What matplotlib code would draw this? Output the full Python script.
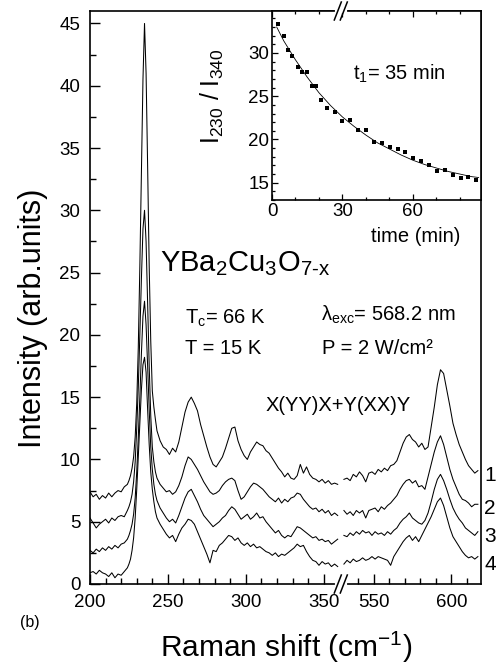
import numpy as np
import matplotlib
matplotlib.use("Agg")
import matplotlib.pyplot as plt
from matplotlib.lines import Line2D
from matplotlib.ticker import FixedLocator, MultipleLocator, FormatStrFormatter

plt.rcParams['font.family'] = ['Liberation Sans', 'DejaVu Sans']
plt.rcParams['mathtext.fontset'] = 'custom'
plt.rcParams['mathtext.rm'] = 'Liberation Sans'
plt.rcParams['mathtext.it'] = 'Liberation Sans'
plt.rcParams['mathtext.default'] = 'regular'

# Raman shift (cm-1): low segment and high segment of the broken axis
shift_lo = np.r_[np.arange(200, 225, 2), np.arange(225, 244, 1), np.arange(245, 360, 2)]
shift_hi = np.arange(531, 618, 2)

# spectra 1..4 (offset)
s1_lo = [7.4, 7.0, 7.2, 6.8, 7.1, 6.9, 7.3, 7.0, 7.3, 7.5, 7.4, 7.8, 8.0,
         8.3, 8.7, 9.3, 10.2, 11.8, 14.5, 19.0, 25.5, 33.0, 40.5, 45.0, 41.0, 33.5, 25.5, 19.5, 15.5, 14.2, 13.2, 12.3,
         11.5, 11.0, 10.8, 10.4, 10.9, 10.6, 11.4, 12.6, 13.8, 14.6,
         15.0, 14.5, 13.9, 12.8, 11.9, 11.0, 10.2, 9.6, 9.4, 9.8,
         10.2, 10.9, 11.7, 12.5, 12.6, 11.5, 10.8, 10.3, 10.0, 10.6,
         11.0, 11.4, 11.2, 11.1, 10.7, 10.5, 10.1, 9.7, 9.3, 9.0,
         8.6, 8.9, 8.5, 8.4, 8.7, 9.6, 8.9, 9.4, 8.8, 8.5,
         8.4, 8.2, 8.4, 8.1, 8.3, 8.0, 8.1, 8.0]
s1_hi = [8.4, 8.5, 8.3, 8.8, 8.6, 9.0, 8.7, 8.2, 8.9, 9.0,
         8.8, 9.2, 9.0, 9.3, 9.1, 9.5, 9.6, 9.9, 10.6, 11.3,
         11.8, 12.0, 11.6, 11.4, 11.0, 11.3, 10.8, 11.0, 12.6, 14.2,
         16.0, 17.2, 16.9, 15.6, 14.3, 12.9, 12.0, 11.2, 10.6, 10.0,
         9.5, 9.2, 8.9, 9.1]

s2_lo = [5.3, 4.9, 4.5, 4.8, 5.0, 5.2, 4.9, 5.3, 5.1, 5.4, 5.5, 5.4, 5.9,
         6.2, 6.6, 7.2, 8.2, 9.8, 12.5, 15.8, 20.0, 24.5, 28.5, 30.0, 27.5, 22.5, 17.5, 13.5, 11.0, 9.8, 9.0, 8.5,
         8.0, 7.7, 7.4, 7.5, 7.2, 7.4, 7.9, 8.6, 9.5, 10.2,
         10.0, 9.6, 9.2, 8.7, 8.2, 7.8, 7.4, 7.2, 7.3, 7.5,
         7.9, 8.2, 8.4, 8.5, 8.3, 7.5, 6.8, 7.0, 7.4, 7.8,
         8.1, 8.0, 7.8, 7.6, 7.3, 7.0, 6.8, 6.6, 6.9, 6.5,
         6.8, 6.6, 6.9, 7.0, 7.3, 7.2, 6.8, 6.5, 6.2, 6.0,
         6.1, 5.8, 6.0, 5.7, 5.9, 5.5, 5.7, 5.5]
s2_hi = [5.9, 5.6, 5.8, 5.5, 5.9, 5.7, 5.9, 5.3, 5.9, 6.0,
         6.1, 5.8, 6.2, 6.0, 6.3, 6.5, 6.8, 7.1, 7.6, 8.0,
         8.3, 8.4, 8.1, 8.3, 7.8, 7.9, 7.6, 8.6, 9.6, 10.6,
         11.4, 11.9, 11.2, 10.2, 9.2, 8.4, 7.8, 7.2, 6.8, 6.7,
         6.5, 6.2, 6.4, 6.4]

s3_lo = [2.7, 2.5, 2.8, 2.6, 2.9, 2.7, 3.0, 2.8, 3.1, 2.9, 3.2, 3.3, 3.6,
         3.9, 4.3, 4.8, 5.6, 6.9, 9.0, 11.8, 15.0, 18.5, 21.5, 22.7, 20.8, 17.5, 14.0, 11.0, 9.2, 8.0, 7.2, 6.7,
         6.1, 5.7, 5.3, 5.0, 5.2, 4.9, 5.5, 6.2, 6.9, 7.4,
         7.6, 7.1, 6.6, 6.0, 5.5, 5.2, 4.9, 4.6, 4.8, 5.0,
         5.3, 5.5, 5.9, 6.2, 6.0, 5.6, 5.2, 5.4, 5.6, 5.2,
         5.4, 5.7, 5.3, 5.4, 5.0, 4.7, 4.4, 4.1, 4.3, 3.9,
         3.7, 3.9, 3.8, 4.2, 4.6, 4.5, 4.3, 4.1, 3.9, 3.7,
         3.8, 3.5, 3.6, 3.4, 3.5, 3.2, 3.4, 3.6]
s3_hi = [3.9, 3.8, 4.1, 3.9, 4.2, 4.0, 4.3, 4.1, 4.2, 3.9,
         4.2, 4.0, 4.1, 3.9, 4.2, 4.0, 4.3, 4.5, 4.9, 5.2,
         5.4, 5.7, 5.3, 5.1, 4.9, 4.8, 5.1, 5.7, 6.6, 7.6,
         8.4, 8.8, 8.3, 7.6, 6.8, 6.1, 5.6, 5.2, 4.9, 4.5,
         4.3, 4.1, 3.9, 4.2]

s4_lo = [0.9, 1.0, 0.8, 1.1, 0.9, 0.8, 0.6, 0.9, 0.5, 0.8, 0.7, 1.0, 1.3,
         1.6, 2.0, 2.7, 3.7, 5.3, 7.6, 10.2, 12.9, 15.6, 17.6, 18.2, 17.0, 14.0, 11.2, 9.0, 7.6, 6.6, 5.8, 5.3,
         4.8, 4.4, 4.0, 3.7, 3.9, 3.4, 4.0, 4.5, 4.8, 5.2,
         5.1, 4.8, 4.2, 3.6, 3.0, 2.4, 1.7, 2.7, 2.6, 3.1,
         3.3, 3.6, 3.9, 3.8, 3.5, 3.7, 3.3, 3.1, 3.3, 3.0,
         3.2, 2.9, 3.0, 2.8, 2.6, 2.5, 2.3, 2.5, 2.2, 2.4,
         2.3, 2.5, 2.7, 2.9, 3.2, 3.0, 3.1, 2.6, 2.2, 1.9,
         1.8, 1.5, 1.8, 1.6, 1.7, 1.4, 1.6, 1.4]
s4_hi = [1.6, 1.9, 1.7, 2.0, 1.8, 1.9, 2.1, 1.9, 2.0, 2.2,
         2.0, 2.2, 2.1, 2.0, 1.9, 1.5, 2.2, 2.6, 3.0, 3.4,
         3.7, 3.9, 3.5, 3.8, 3.4, 3.9, 4.4, 4.9, 5.4, 6.0,
         6.6, 6.9, 6.3, 5.4, 4.5, 3.8, 3.4, 3.0, 2.6, 2.3,
         2.1, 2.2, 2.0, 2.2]

spectra_lo = [s1_lo, s2_lo, s3_lo, s4_lo]
spectra_hi = [s1_hi, s2_hi, s3_hi, s4_hi]
spectrum_names = ['1', '2', '3', '4']
name_y = [8.7, 6.1, 3.8, 1.6]

# inset: I230/I340 vs time
time_min = [2.6, 4.9, 7.0, 8.7, 10.9, 12.7, 14.9, 16.9, 18.7, 20.7, 23.5, 26.7, 29.9, 33.2, 36.8,
            39.9, 43.3, 46.8, 50.2, 53.5, 56.8, 60.2, 63.6, 67.0, 70.4, 73.5, 77.0, 80.3, 83.6, 87.0]
ratio = [33.4, 32.0, 30.3, 29.65, 28.35, 27.8, 27.8, 26.2, 26.2, 24.6, 23.6, 23.2, 22.1, 22.2, 21.1,
         21.1, 19.7, 19.6, 19.1, 18.9, 18.6, 17.8, 17.5, 17.0, 16.3, 16.5, 15.9, 15.55, 15.65, 15.3]
fit_t = [2, 5, 10, 15, 20, 25, 30, 35, 40, 45, 50, 55, 60, 65, 70, 75, 80, 85, 88]
fit_ratio = [33.0, 31.4, 29.2, 27.2, 25.4, 23.9, 22.6, 21.5, 20.5, 19.6, 18.9, 18.2, 17.6, 17.1,
             16.7, 16.3, 16.0, 15.7, 15.6]


def fwd(x):
    x = np.asarray(x, dtype=float)
    return np.where(x <= 362, x, np.where(x >= 530, x - 168, 362.0))


def inv(x):
    x = np.asarray(x, dtype=float)
    return np.where(x <= 362, x, x + 168)


W, H = 496, 667
fig = plt.figure(figsize=(W / 100, H / 100), dpi=100)
ax = fig.add_axes([90 / W, 1 - 584 / H, (481 - 90) / W, (584 - 11) / H])
ax.set_xscale('function', functions=(fwd, inv))

for ylo, yhi in zip(spectra_lo, spectra_hi):
    ax.plot(shift_lo, ylo, color='black', lw=0.75)
    ax.plot(shift_hi, yhi, color='black', lw=0.75)

ax.set_xlim(200, 619)
ax.set_ylim(0, 46)
ax.xaxis.set_major_locator(FixedLocator([200, 250, 300, 350, 550, 600]))
ax.xaxis.set_minor_locator(FixedLocator([210, 220, 230, 240, 260, 270, 280, 290, 310, 320, 330, 340,
                                         540, 560, 570, 580, 590, 610]))
ax.xaxis.set_major_formatter(FormatStrFormatter('%d'))
ax.yaxis.set_major_locator(MultipleLocator(5))
ax.yaxis.set_minor_locator(MultipleLocator(2.5))
ax.tick_params(which='both', direction='in', top=False, right=False, labelsize=13.5, pad=7, width=1)
ax.tick_params(which='major', length=7)
ax.tick_params(which='minor', length=4)
for sp in ax.spines.values():
    sp.set_linewidth(1.2)

for name, yy in zip(spectrum_names, name_y):
    ax.text(1.008, yy, name, transform=ax.get_yaxis_transform(), fontsize=15,
            ha='left', va='center')

ax.text(245, 25.1, 'YBa$_2$Cu$_3$O$_{7‐x}$', fontsize=21, ha='left', va='baseline')
ax.text(261, 20.9, 'T$_c$= 66 K', fontsize=14.5, ha='left', va='baseline')
ax.text(261, 18.5, 'T = 15 K', fontsize=14.5, ha='left', va='baseline')
ax.text(348, 21.1, 'λ$_{exc}$= 568.2 nm', fontsize=14.5, ha='left', va='baseline')
ax.text(349, 18.5, 'P = 2 W/cm²', fontsize=14.5, ha='left', va='baseline')
ax.text(313, 13.9, 'X(YY)X+Y(XX)Y', fontsize=14.5, ha='left', va='baseline')

fig.text(33 / W, 1 - 318 / H, 'Intensity (arb.units)', rotation=90, fontsize=22,
         ha='center', va='center')
fig.text(286 / W, 1 - 647 / H, 'Raman shift (cm$^{-1}$)', fontsize=21.5, ha='center', va='center')
fig.text(30 / W, 1 - 622 / H, '(b)', fontsize=11.5, ha='center', va='center')

# inset
axin = fig.add_axes([272 / W, 1 - 200 / H, (481 - 272) / W, (200 - 11) / H])
axin.plot(time_min, ratio, 's', color='black', ms=3.2, mew=0)
axin.plot(fit_t, fit_ratio, color='black', lw=0.6)
axin.set_xlim(0, 89)
axin.set_ylim(13, 34.85)
axin.xaxis.set_major_locator(FixedLocator([0, 30, 60]))
axin.xaxis.set_minor_locator(MultipleLocator(10))
axin.yaxis.set_major_locator(MultipleLocator(5))
axin.yaxis.set_minor_locator(MultipleLocator(1))
axin.tick_params(which='both', direction='in', top=True, right=False, labelsize=13.5, pad=2, width=0.9)
axin.tick_params(which='major', length=4)
axin.tick_params(which='minor', length=2.5)
for sp in axin.spines.values():
    sp.set_linewidth(1.2)
axin.text(34.3, 27.6, 't$_1$= 35 min', fontsize=14.5, ha='left', va='center')
fig.text(212 / W, 1 - 96 / H, 'I$_{230}$ / I$_{340}$', rotation=90, fontsize=18,
         ha='center', va='center')
fig.text(416 / W, 1 - 237 / H, 'time (min)', fontsize=14.5, ha='center', va='center')

# axis-break marks on the bottom and top spines
bx, _ = ax.transData.transform((361, 0))
for by in (ax.transAxes.transform((0, 0))[1], ax.transAxes.transform((0, 1))[1]):
    fig.add_artist(Line2D([(bx - 4) / W, (bx + 4) / W], [by / H, by / H], color='white', lw=3))
    for off in (-3, 3):
        fig.add_artist(Line2D([(bx + off - 3.5) / W, (bx + off + 3.5) / W],
                              [(by - 9) / H, (by + 9) / H], color='black', lw=1.1))

fig.savefig('out.png', dpi=100)
